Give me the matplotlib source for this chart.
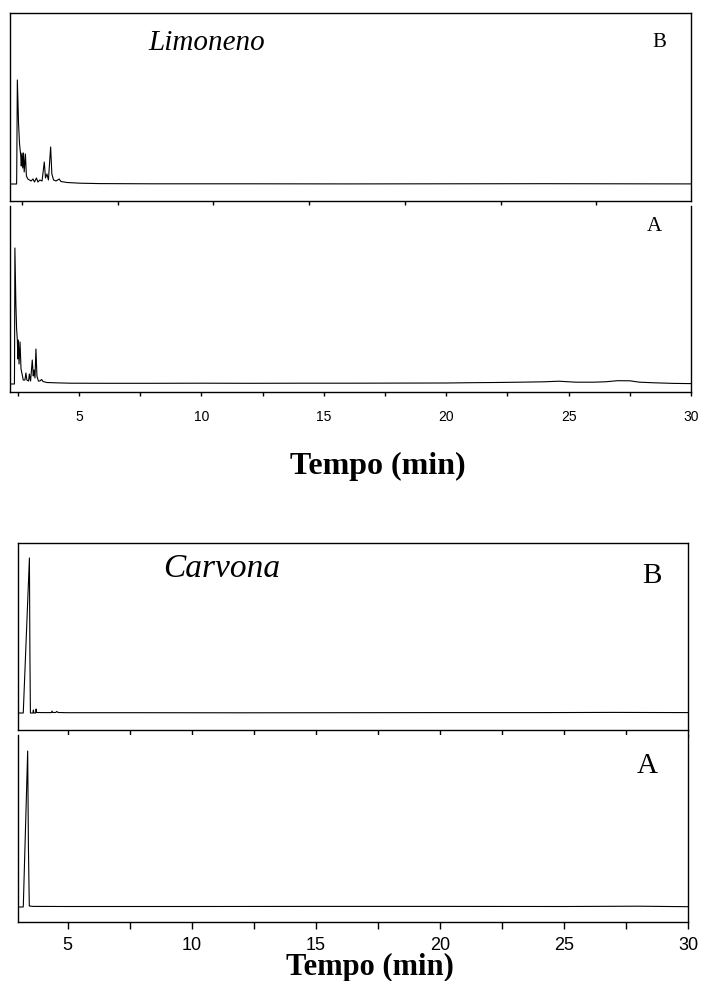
import matplotlib
matplotlib.use("Agg")
import matplotlib.pyplot as plt
from matplotlib.ticker import MultipleLocator, NullFormatter

# Limoneno, trace B (time in min, detector signal in arbitrary units)
limo_b_t = [2.18, 2.45, 2.455, 2.48, 2.53, 2.57, 2.62, 2.64, 2.67, 2.70, 2.73, 2.76, 2.81,
            2.85, 2.91, 3.04, 3.12, 3.18, 3.26, 3.32, 3.40, 3.49, 3.58, 3.63, 3.69, 3.75,
            3.84, 3.89, 3.96, 4.06, 4.19, 4.26, 4.51, 5.04, 5.85, 8.0, 12.0, 16.0, 20.0,
            24.0, 27.0, 30.0]
limo_b_y = [0, 0, 11, 104, 60, 40, 28, 18, 31, 16, 31, 12, 30,
            8, 5, 3, 5, 2, 6, 2, 4, 3, 22, 6, 10, 4,
            37, 10, 4, 3, 5, 2.5, 1.5, 0.8, 0.4, 0.2, 0.2, 0.1, 0.2,
            0.3, 0.2, 0.1]

# Limoneno, trace A
limo_a_t = [2.18, 2.36, 2.365, 2.38, 2.42, 2.45, 2.48, 2.50, 2.52, 2.55, 2.59, 2.63, 2.69,
            2.72, 2.79, 2.83, 2.87, 2.94, 2.97, 3.02, 3.09, 3.13, 3.16, 3.20, 3.24, 3.28,
            3.34, 3.40, 3.47, 3.53, 3.68, 4.02, 4.63, 6.0, 8.0, 10.0, 12.0, 14.0, 16.0,
            18.0, 20.0, 21.0, 22.0, 23.0, 24.0, 24.6, 25.3, 26.0, 26.5, 27.0, 27.5, 27.9,
            28.5, 29.3, 30.0]
limo_a_y = [0, 0, 16, 136, 80, 55, 44, 25, 44, 20, 42, 15, 8,
            4, 4, 11, 4, 3, 10, 3, 24, 8, 14, 6, 35, 8,
            3, 3, 4.5, 2.5, 1.5, 1.2, 0.8, 0.7, 0.7, 0.8, 0.7, 0.8, 0.8,
            0.9, 1.0, 1.3, 1.5, 1.8, 2.2, 2.8, 1.8, 1.8, 2.2, 3.3, 3.2, 1.8,
            1.2, 0.6, 0.4]

# Carvona, trace B
carv_b_t = [3.0, 3.21, 3.215, 3.46, 3.48, 3.50, 3.60, 3.62, 3.64, 3.71, 3.73, 3.75, 4.0,
            4.35, 4.37, 4.40, 4.52, 4.56, 4.62, 5.0, 8.0, 12.0, 16.0, 20.0, 24.0, 27.0, 30.0]
carv_b_y = [0, 0, 2, 155, 60, 0, 0, 3, 0, 0, 4, 0.5, 0.4,
            0.4, 2, 0.5, 0.5, 1.5, 0.5, 0.3, 0.3, 0.2, 0.3, 0.4, 0.4, 0.6, 0.4]

# Carvona, trace A
carv_a_t = [3.0, 3.21, 3.215, 3.39, 3.42, 3.455, 3.6, 5.0, 10.0, 15.0, 20.0, 25.0, 28.0, 30.0]
carv_a_y = [0, 0, 2, 156, 60, 1, 0.6, 0.5, 0.5, 0.6, 0.6, 0.5, 0.8, 0.3]

top_b_ticks = [2.67, 6.58, 10.49, 14.40, 18.31, 22.22, 26.13]
major_ticks = [5, 10, 15, 20, 25, 30]

plt.rcParams['font.family'] = 'Liberation Sans'
fig = plt.figure(figsize=(7.04, 9.81), dpi=100)
W, H = 704.0, 981.0


def box(left, top, right, bottom):
    return [left / W, 1 - bottom / H, (right - left) / W, (bottom - top) / H]


def panel(rect, t, y, xlim, ylim):
    ax = fig.add_axes(rect)
    ax.plot(t, y, color='black', lw=0.8)
    ax.set_xlim(*xlim)
    ax.set_ylim(*ylim)
    ax.set_yticks([])
    for s in ax.spines.values():
        s.set_linewidth(1.0)
    return ax


# ---- Limoneno ----
ax1 = panel(box(10, 13, 691, 201), limo_b_t, limo_b_y, (2.18, 30), (-17, 171))
ax1.set_xticks(top_b_ticks)
ax1.xaxis.set_major_formatter(NullFormatter())
ax1.tick_params(axis='x', direction='out', length=3, width=1)

ax2 = panel(box(10, 206, 691, 392), limo_a_t, limo_a_y, (2.18, 30), (-8, 178))
ax2.spines['top'].set_visible(False)
ax2.set_xticks(major_ticks)
ax2.xaxis.set_minor_locator(MultipleLocator(2.5))
ax2.tick_params(axis='x', which='both', direction='out', length=3, width=1,
                labelsize=10, pad=10)

fig.text(148 / W, 1 - 50 / H, 'Limoneno', family='Liberation Serif', style='italic',
         fontsize=21, va='baseline')
fig.text(652 / W, 1 - 47 / H, 'B', family='Liberation Serif', fontsize=15, va='baseline')
fig.text(647 / W, 1 - 231 / H, 'A', family='Liberation Serif', fontsize=15, va='baseline')
fig.text(378 / W, 1 - 474 / H, 'Tempo (min)', family='Liberation Serif', weight='bold',
         fontsize=23, ha='center', va='baseline')

# ---- Carvona ----
ax3 = panel(box(18, 543, 688, 730), carv_b_t, carv_b_y, (3.0, 30), (-17, 170))
ax3.set_xticks(major_ticks)
ax3.xaxis.set_minor_locator(MultipleLocator(2.5))
ax3.xaxis.set_major_formatter(NullFormatter())
ax3.tick_params(axis='x', which='both', direction='out', length=5, width=1)

ax4 = panel(box(18, 735, 688, 922), carv_a_t, carv_a_y, (3.0, 30), (-15, 172))
ax4.spines['top'].set_visible(False)
ax4.set_xticks(major_ticks)
ax4.xaxis.set_minor_locator(MultipleLocator(2.5))
ax4.tick_params(axis='x', which='both', direction='out', length=5, width=1,
                labelsize=13, pad=6)

fig.text(163 / W, 1 - 577 / H, 'Carvona', family='Liberation Serif', style='italic',
         fontsize=24, va='baseline')
fig.text(642 / W, 1 - 583 / H, 'B', family='Liberation Serif', fontsize=21, va='baseline')
fig.text(637 / W, 1 - 773 / H, 'A', family='Liberation Serif', fontsize=21, va='baseline')
fig.text(370 / W, 1 - 975 / H, 'Tempo (min)', family='Liberation Serif', weight='bold',
         fontsize=22, ha='center', va='baseline')

fig.savefig('out.png', dpi=100)
